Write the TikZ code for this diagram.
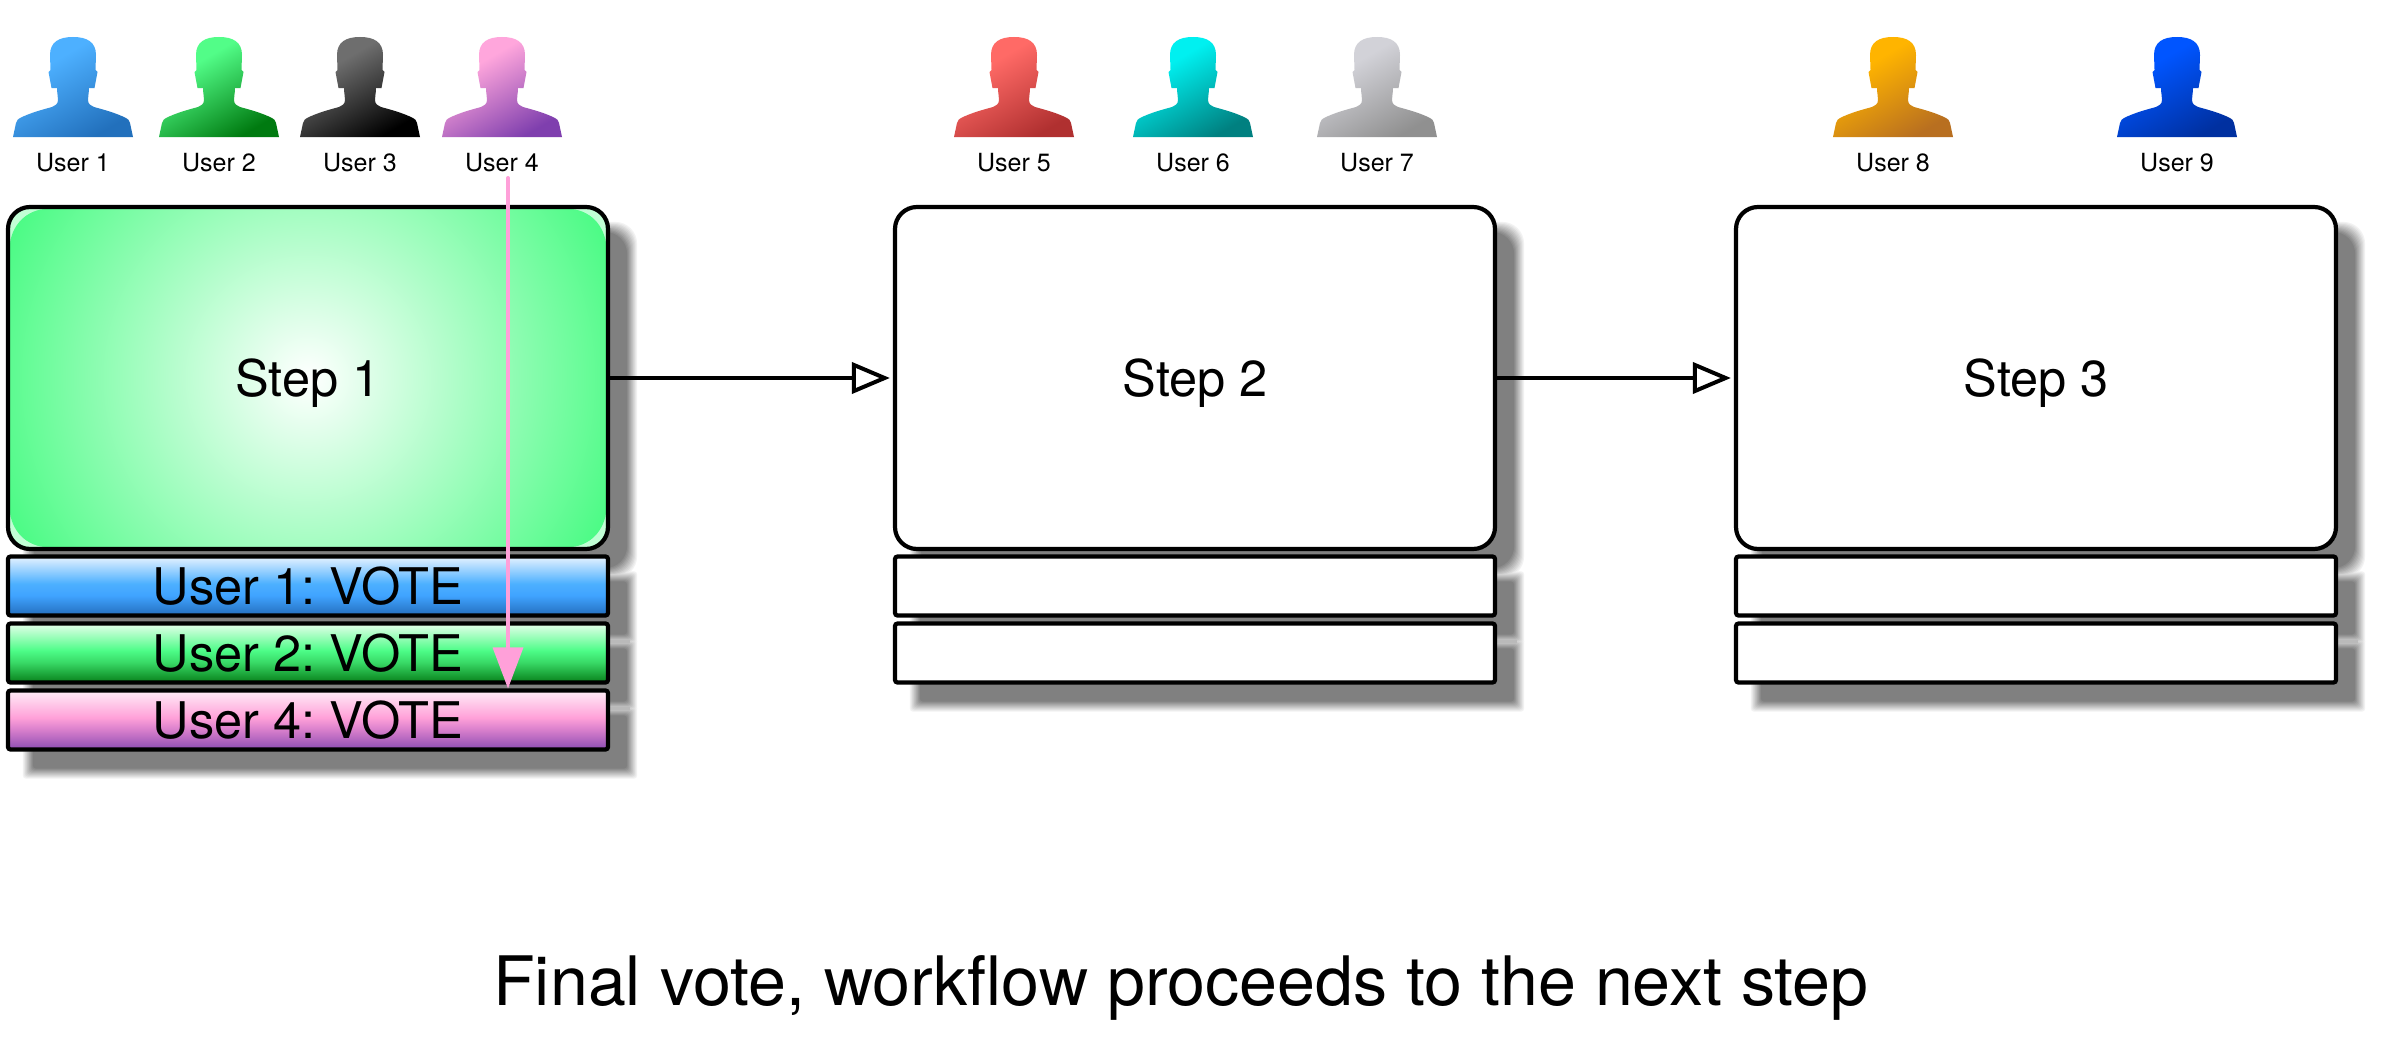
\documentclass[tikz,border=0pt]{standalone}
\usepackage{fontspec}
\setmainfont{TeX Gyre Heros}
\usetikzlibrary{arrows.meta,backgrounds}
\definecolor{g1}{HTML}{4DFB86}
\definecolor{pk}{HTML}{FFA0D9}
\definecolor{aL}{HTML}{4DB0FF}\definecolor{aD}{HTML}{2270BC}
\definecolor{bL}{HTML}{52FD88}\definecolor{bD}{HTML}{007A10}
\definecolor{cL}{HTML}{6E6E6E}\definecolor{cD}{HTML}{000000}
\definecolor{dL}{HTML}{FFA6DC}\definecolor{dD}{HTML}{7F3FAE}
\definecolor{eL}{HTML}{FF6A66}\definecolor{eD}{HTML}{B03030}
\definecolor{fL}{HTML}{00F0F0}\definecolor{fD}{HTML}{008080}
\definecolor{hL}{HTML}{D2D2D8}\definecolor{hD}{HTML}{909090}
\definecolor{iL}{HTML}{FFB400}\definecolor{iD}{HTML}{B86F20}
\definecolor{jL}{HTML}{0055FF}\definecolor{jD}{HTML}{0030A0}
\colorlet{pL}{white}\colorlet{pD}{black}
\pgfdeclareverticalshading[pL,pD]{personshade}{100bp}{color(0bp)=(pD);color(25bp)=(pD);color(65bp)=(pL);color(100bp)=(pL)}
\pgfdeclareverticalshading{vblue}{100bp}{rgb(0bp)=(0.14,0.43,0.74);rgb(25bp)=(0.14,0.43,0.74);rgb(42bp)=(0.25,0.64,1);rgb(52bp)=(0.30,0.69,1);rgb(75bp)=(0.90,0.95,1);rgb(100bp)=(0.90,0.95,1)}
\pgfdeclareverticalshading{vgreen}{100bp}{rgb(0bp)=(0.03,0.50,0.10);rgb(25bp)=(0.03,0.50,0.10);rgb(42bp)=(0.22,0.85,0.40);rgb(52bp)=(0.30,0.99,0.53);rgb(75bp)=(0.90,1,0.92);rgb(100bp)=(0.90,1,0.92)}
\pgfdeclareverticalshading{vpink}{100bp}{rgb(0bp)=(0.55,0.30,0.70);rgb(25bp)=(0.55,0.30,0.70);rgb(42bp)=(0.85,0.50,0.80);rgb(52bp)=(1,0.63,0.85);rgb(75bp)=(1,0.93,0.97);rgb(100bp)=(1,0.93,0.97)}
\tikzset{
  x=1pt,y=-1pt,
  big/.style={font=\fontsize{50.5}{50}\selectfont\frenchspacing},
  stepbox/.style={draw=black,line width=4.2pt,rounded corners=22pt,minimum width=600pt,minimum height=342pt,fill=white,inner sep=0pt,big,text height=36pt,text depth=0pt},
  votebox/.style={draw=black,line width=4.2pt,rounded corners=2.5pt,minimum width=600pt,minimum height=59pt,fill=white,inner sep=0pt,big,text height=36pt,text depth=0pt},
  small/.style={font=\fontsize{25}{25}\selectfont,inner sep=0pt},
  flow/.style={draw=black,line width=4pt,shorten >=3pt,-{Triangle[fill=white,length=38pt,width=31pt,line width=4pt]}},
  pinkflow/.style={draw=pk,line width=4pt,line cap=round,-{Triangle[fill=pk,length=41pt,width=31pt,line width=0pt]}}
}
\newcommand{\usericon}[5]{%
  \colorlet{pL}{#3}\colorlet{pD}{#4}%
  \shade[shading=personshade,shading angle=30,shift={(#1,0)}]
    (0,37) .. controls (14,37) and (23,42) .. (23,55) -- (22.5,70) -- (24.5,72) -- (21.5,88) -- (16,88)
    .. controls (16,93) and (15,96) .. (15,100) .. controls (15,104) and (18,106) .. (21,107)
    .. controls (32,110) and (43,113) .. (53,118) .. controls (55,119) and (56,120) .. (57,123) -- (60,137)
    -- (-60,137) -- (-57,123) .. controls (-56,120) and (-55,119) .. (-53,118)
    .. controls (-43,113) and (-32,110) .. (-21,107) .. controls (-18,106) and (-15,104) .. (-15,100)
    .. controls (-15,96) and (-16,93) .. (-16,88) -- (-21.5,88) -- (-24.5,72) -- (-22.5,70) -- (-23,55)
    .. controls (-23,42) and (-14,37) .. (0,37) -- cycle;
  \node[small,anchor=base] (#2) at (#1,171.3) {#5};
}
% soft shadow layers: each layer grows the shadow by #1 px
\newcommand{\shadowlayers}[1]{%
  \foreach \e/\g in {#1}{
    \foreach \n in {s1,s2,s3}{
      \fill[black!\g,rounded corners=22pt] ([shift={(22-\e,22+\e)}]\n.south west) rectangle ([shift={(22+\e,22-\e)}]\n.north east);
    }
    \foreach \n in {v11,v12,v14,v21,v22,v31,v32}{
      \fill[black!\g,rounded corners=3pt] ([shift={(22-\e,22+\e)}]\n.south west) rectangle ([shift={(22+\e,22-\e)}]\n.north east);
    }
  }%
}
\newcommand{\shadowbridge}[3]{%
  \fill[black!#3] ([shift={(24,22)}]#1.south west) rectangle ([shift={(20,22)}]#2.north east);%
}
\begin{document}
\begin{tikzpicture}
\useasboundingbox (0,0) rectangle (2383,1041);
% user icons
\usericon{73}{u1}{aL}{aD}{User 1}
\usericon{219}{u2}{bL}{bD}{User 2}
\usericon{360}{u3}{cL}{cD}{User 3}
\usericon{502}{u4}{dL}{dD}{User 4}
\usericon{1014}{u5}{eL}{eD}{User 5}
\usericon{1193}{u6}{fL}{fD}{User 6}
\usericon{1377}{u7}{hL}{hD}{User 7}
\usericon{1893}{u8}{iL}{iD}{User 8}
\usericon{2177}{u9}{jL}{jD}{User 9}
% steps
\node[stepbox,path picture={
    \fill[g1!35!white] (path picture bounding box.south west) rectangle (path picture bounding box.north east);
    \clip[rounded corners=38pt] ([shift={(2,-2)}]path picture bounding box.south west) rectangle ([shift={(-2,2)}]path picture bounding box.north east);
    \fill[g1] (path picture bounding box.south west) rectangle (path picture bounding box.north east);
    \shade[inner color=white,outer color=g1] (path picture bounding box.center) circle (328);
  }] (s1) at (308,378) {Step 1};
\node[stepbox] (s2) at (1195,378) {Step 2};
\node[stepbox] (s3) at (2036,378) {Step 3};
% vote rows
\node[votebox,shading=vblue] (v11) at (308,586) {User 1: VOTE};
\node[votebox,shading=vgreen] (v12) at (308,653) {User 2: VOTE};
\node[votebox,shading=vpink] (v14) at (308,720) {User 4: VOTE};
\node[votebox] (v21) at (1195,586) {};
\node[votebox] (v22) at (1195,653) {};
\node[votebox] (v31) at (2036,586) {};
\node[votebox] (v32) at (2036,653) {};
% shadows
\begin{scope}[on background layer]
\fill[white] (0,0) rectangle (2383,1041);
\shadowlayers{5/5,4/9,3/14,2/18,1/23}
\shadowbridge{v11}{v12}{27}
\shadowbridge{v12}{v14}{27}
\shadowbridge{v21}{v22}{27}
\shadowbridge{v31}{v32}{27}
\shadowlayers{0/27,-1/32,-2/36,-3/41,-4/45,-5/50}
\end{scope}
% connectors
\draw[flow] (s1) -- (s2);
\draw[flow] (s2) -- (s3);
\coordinate (pinkstart) at (508,178);
\draw[pinkflow] (pinkstart) -- (pinkstart |- v14.north);
% caption
\node[font=\fontsize{68.2}{68}\selectfont,anchor=base,inner sep=0pt] (title) at (1181,1005) {Final vote, workflow proceeds to the next step};
\end{tikzpicture}
\end{document}
